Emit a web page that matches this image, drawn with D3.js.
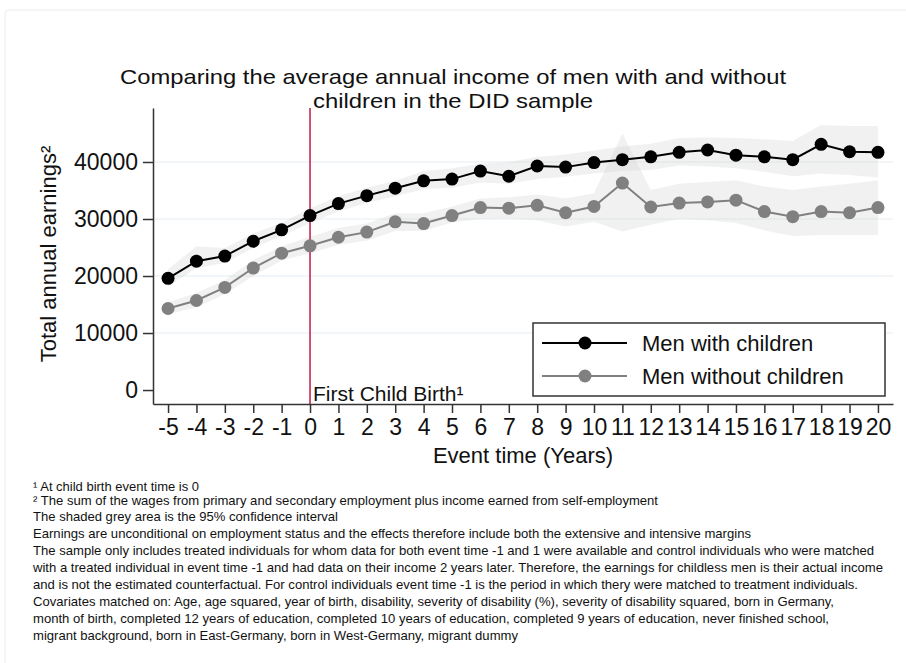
<!DOCTYPE html>
<html>
  <head>
    <meta charset="utf-8">
    <title>Income of men with and without children</title>
    <script src="https://d3js.org/d3.v7.min.js"></script>
    <style>
      body { margin: 0; background: #fff; }
      text { font-family: "Liberation Sans", Arial, Helvetica, sans-serif; fill: #111; }
    </style>
  </head>
  <body>
    <div id="chart"></div>
    <script>
      // Event time (years relative to first child birth)
      var eventTime = [-5, -4, -3, -2, -1, 0, 1, 2, 3, 4, 5, 6, 7, 8, 9, 10, 11, 12, 13, 14, 15, 16, 17, 18, 19, 20];

      // Men with children: mean and 95% CI
      var withChildren = [19600, 22600, 23500, 26100, 28100, 30600, 32700, 34100, 35400, 36700, 37000, 38400, 37500,
                          39300, 39100, 39900, 40400, 40900, 41700, 42100, 41200, 40900, 40400, 43100, 41800, 41700];
      var withLo = [18200, 21400, 22300, 24900, 27000, 29300, 31300, 32800, 34000, 35200, 35500, 36400, 36200,
                    37000, 37400, 38000, 38400, 38600, 39400, 39200, 38900, 38300, 37500, 38000, 37700, 37300];
      var withHi = [21200, 25200, 24900, 27500, 29300, 31900, 34000, 35500, 36700, 38400, 38900, 39700, 40000,
                    40900, 41300, 42000, 42700, 43200, 44200, 44300, 44200, 44000, 43700, 46500, 46300, 46300];

      // Men without children: mean and 95% CI
      var withoutChildren = [14300, 15700, 18000, 21400, 24000, 25300, 26800, 27700, 29500, 29200, 30600, 32000, 31900,
                             32400, 31100, 32200, 36300, 32100, 32800, 33000, 33300, 31300, 30400, 31300, 31100, 32000];
      var withoutLo = [13300, 14500, 16800, 20000, 22700, 24000, 25500, 26200, 27900, 27900, 29400, 30000, 30100,
                       29800, 28700, 29500, 27800, 29000, 30000, 29800, 29300, 28000, 27000, 27200, 27200, 27200];
      var withoutHi = [15400, 17000, 19300, 22800, 25200, 26900, 28400, 29200, 31000, 31000, 32200, 33600, 33800,
                       34300, 33600, 34500, 45000, 35100, 36200, 36500, 36800, 35700, 35100, 35700, 36200, 36800];

      var yTicks = [0, 10000, 20000, 30000, 40000];
      var seriesNames = ["Men with children", "Men without children"];

      var notes = [
        "\u00b9 At child birth event time is 0",
        "\u00b2 The sum of the wages from primary and secondary employment plus income earned from self-employment",
        "The shaded grey area is the 95% confidence interval",
        "Earnings are unconditional on employment status and the effects therefore include both the extensive and intensive margins",
        "The sample only includes treated individuals for whom data for both event time -1 and 1 were available and control individuals who were matched",
        "with a treated individual in event time -1 and had data on their income 2 years later. Therefore, the earnings for childless men is their actual income",
        "and is not the estimated counterfactual. For control individuals event time -1 is the period in which thery were matched to treatment individuals.",
        "Covariates matched on: Age, age squared, year of birth, disability, severity of disability (%), severity of disability squared, born in Germany,",
        "month of birth, completed 12 years of education, completed 10 years of education, completed 9 years of education, never finished school,",
        "migrant background, born in East-Germany, born in West-Germany, migrant dummy"
      ];
      var noteEnds = [199, 658, 338, 751, 874, 883, 858, 834, 829, 518];
      var noteY = [491, 505, 521, 538, 555, 572, 589, 606, 623, 640];

      var W = 906, H = 663;
      var plot = {left: 153, right: 893, top: 108, bottom: 404};

      var svg = d3.select("#chart")
        .append("svg")
          .attr("width", W)
          .attr("height", H);

      // faint outer frame of the graph region
      svg.append("rect")
        .attr("x", 5).attr("y", 10)
        .attr("width", 920).attr("height", 700)
        .attr("rx", 4)
        .attr("fill", "none")
        .attr("stroke", "#ececec");

      var x = d3.scaleLinear()
        .domain([-5.53, 20.53])
        .range([plot.left, plot.right]);

      var y = d3.scaleLinear()
        .domain([-2450, 49470])
        .range([plot.bottom, plot.top]);

      // Title (two lines, slightly wide as in the original)
      svg.append("text")
        .attr("x", 120).attr("y", 84)
        .attr("textLength", 666)
        .attr("lengthAdjust", "spacingAndGlyphs")
        .style("font-size", "21px")
        .text("Comparing the average annual income of men with and without");
      svg.append("text")
        .attr("x", 313).attr("y", 108)
        .attr("textLength", 280)
        .attr("lengthAdjust", "spacingAndGlyphs")
        .style("font-size", "21px")
        .text("children in the DID sample");

      // Gridlines
      svg.append("g")
        .selectAll("line")
        .data(yTicks.filter(function(d) { return d > 0; }))
        .enter()
        .append("line")
          .attr("x1", plot.left).attr("x2", plot.right)
          .attr("y1", function(d) { return y(d); })
          .attr("y2", function(d) { return y(d); })
          .attr("stroke", "#e6edf2")
          .attr("stroke-width", 1.2);

      // Confidence bands
      var bands = [
        {lo: withLo, hi: withHi},
        {lo: withoutLo, hi: withoutHi}
      ];
      var area = d3.area()
        .x(function(d) { return x(d.t); })
        .y0(function(d) { return y(d.lo); })
        .y1(function(d) { return y(d.hi); });

      bands.forEach(function(b) {
        var pts = eventTime.map(function(t, i) { return {t: t, lo: b.lo[i], hi: b.hi[i]}; });
        svg.append("path")
          .datum(pts)
          .attr("d", area)
          .attr("fill", "#d0d0d0")
          .attr("fill-opacity", 0.3);
      });

      // Vertical line at child birth
      svg.append("line")
        .attr("x1", x(0)).attr("x2", x(0))
        .attr("y1", plot.top).attr("y2", plot.bottom)
        .attr("stroke", "#c42a55")
        .attr("stroke-width", 1.6);

      svg.append("text")
        .attr("x", x(0) + 3).attr("y", 401)
        .style("font-size", "21px")
        .text("First Child Birth\u00b9");

      // Series lines and markers
      var series = [
        {values: withChildren, color: "#000000"},
        {values: withoutChildren, color: "#808080"}
      ];
      var line = d3.line()
        .x(function(d) { return x(d.t); })
        .y(function(d) { return y(d.v); });

      series.forEach(function(s) {
        var pts = eventTime.map(function(t, i) { return {t: t, v: s.values[i]}; });
        svg.append("path")
          .datum(pts)
          .attr("d", line)
          .attr("fill", "none")
          .attr("stroke", s.color)
          .attr("stroke-width", 2);
        svg.append("g")
          .selectAll("circle")
          .data(pts)
          .enter()
          .append("circle")
            .attr("cx", function(d) { return x(d.t); })
            .attr("cy", function(d) { return y(d.v); })
            .attr("r", 6.5)
            .attr("fill", s.color);
      });

      // Axes (plain hyphen for negative labels)
      var plain = function(d) { return String(d); };

      var yAxis = svg.append("g")
        .attr("transform", "translate(" + plot.left + ",0)")
        .call(d3.axisLeft(y).tickValues(yTicks).tickFormat(plain)
          .tickSize(10).tickSizeOuter(0).tickPadding(5));

      var xAxis = svg.append("g")
        .attr("transform", "translate(0," + plot.bottom + ")")
        .call(d3.axisBottom(x).tickValues(eventTime).tickFormat(plain)
          .tickSize(9).tickSizeOuter(0).tickPadding(6));

      [xAxis, yAxis].forEach(function(a) {
        a.selectAll("path, line").attr("stroke", "#333").attr("stroke-width", 1.5);
        a.selectAll("text")
          .style("font-size", "23px")
          .style("font-family", "'Liberation Sans', Arial, Helvetica, sans-serif")
          .attr("fill", "#111");
      });

      svg.append("text")
        .attr("x", (plot.left + plot.right) / 2).attr("y", 463)
        .attr("text-anchor", "middle")
        .style("font-size", "22px")
        .text("Event time (Years)");

      svg.append("text")
        .attr("transform", "translate(56,254) rotate(-90)")
        .attr("text-anchor", "middle")
        .style("font-size", "22px")
        .text("Total annual earnings\u00b2");

      // Legend
      var legend = svg.append("g");
      legend.append("rect")
        .attr("x", 533).attr("y", 323)
        .attr("width", 352).attr("height", 73)
        .attr("fill", "#fff")
        .attr("stroke", "#333")
        .attr("stroke-width", 1.5);
      series.forEach(function(s, i) {
        var ly = 343 + i * 33;
        legend.append("line")
          .attr("x1", 542).attr("x2", 627)
          .attr("y1", ly).attr("y2", ly)
          .attr("stroke", s.color)
          .attr("stroke-width", 2);
        legend.append("circle")
          .attr("cx", 585).attr("cy", ly)
          .attr("r", 6.5)
          .attr("fill", s.color);
        legend.append("text")
          .attr("x", 642).attr("y", ly + 8)
          .style("font-size", "22px")
          .text(seriesNames[i]);
      });

      // Footnotes
      svg.append("g")
        .selectAll("text")
        .data(notes)
        .enter()
        .append("text")
          .attr("x", 33)
          .attr("y", function(d, i) { return noteY[i]; })
          .attr("textLength", function(d, i) { return noteEnds[i] - 33; })
          .attr("lengthAdjust", "spacingAndGlyphs")
          .style("font-size", "13px")
          .attr("fill", "#222")
          .text(function(d) { return d; });
    </script>
  </body>
</html>
